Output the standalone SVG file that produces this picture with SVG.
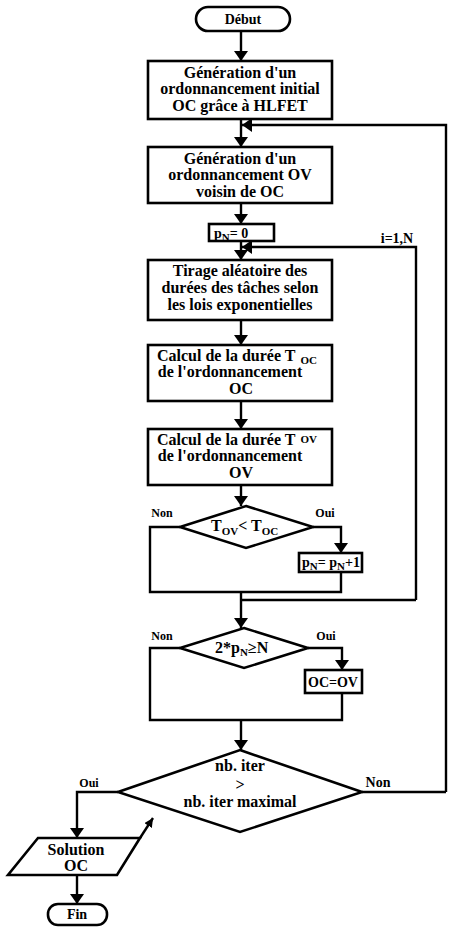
<svg xmlns="http://www.w3.org/2000/svg" width="451" height="936" viewBox="0 0 451 936">
<defs>
<marker id="ah" viewBox="0 0 10 14" refX="10" refY="7" markerWidth="10" markerHeight="14" markerUnits="userSpaceOnUse" orient="auto">
<path d="M0,0 L10,7 L0,14 Z" fill="#000"/>
</marker>
<marker id="ahs" viewBox="0 0 10 10" refX="10" refY="5" markerWidth="9" markerHeight="9" markerUnits="userSpaceOnUse" orient="auto">
<path d="M0,0 L10,5 L0,10 Z" fill="#000"/>
</marker>
</defs>
<style>
.s{fill:#fff;stroke:#000;stroke-width:2.6}
.c{fill:none;stroke:#000;stroke-width:2.4}
.a{fill:none;stroke:#000;stroke-width:2.4;marker-end:url(#ah)}
text{font-family:"Liberation Serif","Times New Roman",serif;font-size:16px;fill:#000;font-weight:bold}
.m{text-anchor:middle}
.l{font-size:12px}
.sm{font-size:14px}
.sub{font-size:11px}
</style>
<rect width="451" height="936" fill="#fff"/>

<g id="connectors">
<path class="a" d="M241,31 V61"/>
<path class="a" d="M241,119 V147"/>
<path class="a" d="M446,792 V125 H242"/>
<path class="a" d="M241,203 V224"/>
<path class="a" d="M241,241 V260"/>
<path class="a" d="M416,600 V247 H242"/>
<path class="a" d="M241,320 V345"/>
<path class="a" d="M241,401 V429"/>
<path class="a" d="M241,485 V506"/>
<path class="a" d="M313,527 H341 V553"/>
<path class="c" d="M180,527 H150 V592 H341 V572"/>
<path class="c" d="M416,600 H241"/>
<path class="a" d="M241,592 V628"/>
<path class="a" d="M308,648 H342 V670"/>
<path class="c" d="M180,648 H150 V720 H342 V693"/>
<path class="a" d="M241,720 V750"/>
<path class="c" d="M362,792 H446"/>
<path class="a" d="M118,792 H77 V838"/>
<path class="a" d="M77,875 V904"/>
<text x="397" y="243" class="m sm">i=1,N</text>
<text x="162" y="517" class="m l">Non</text>
<text x="325" y="517" class="m l">Oui</text>
<text x="162" y="640" class="m l">Non</text>
<text x="326" y="640" class="m l">Oui</text>
<text x="378" y="787" class="m sm">Non</text>
<text x="89" y="787" class="m l">Oui</text>
</g>

<g id="debut">
<rect class="s" x="196" y="7" width="94" height="24" rx="12"/>
<text x="243" y="24" class="m sm">Début</text>
</g>

<g id="init">
<rect class="s" x="148" y="61" width="184" height="58"/>
<text x="240" y="78" class="m">Génération d'un</text>
<text x="240" y="94" class="m">ordonnancement initial</text>
<text x="240" y="111" class="m">OC grâce à HLFET</text>
</g>

<g id="voisin">
<rect class="s" x="148" y="147" width="184" height="56"/>
<text x="240" y="164" class="m">Génération d'un</text>
<text x="240" y="180" class="m">ordonnancement OV</text>
<text x="240" y="197" class="m">voisin de OC</text>
</g>

<g id="pn0">
<rect class="s" x="209" y="224" width="65" height="17"/>
<text x="214" y="238" class="sm">p<tspan class="sub" dy="3">N</tspan><tspan dy="-3">= 0</tspan></text>
</g>

<g id="tirage">
<rect class="s" x="148" y="260" width="184" height="60"/>
<text x="240" y="276" class="m">Tirage aléatoire des</text>
<text x="240" y="293" class="m">durées des tâches selon</text>
<text x="240" y="310" class="m">les lois exponentielles</text>
</g>

<g id="calcOC">
<rect class="s" x="148" y="345" width="184" height="56"/>
<text x="157" y="361">Calcul de la durée T<tspan class="sub" dx="5" dy="3">OC</tspan></text>
<text x="230" y="377" class="m">de l'ordonnancement</text>
<text x="241" y="394" class="m">OC</text>
</g>

<g id="calcOV">
<rect class="s" x="148" y="429" width="184" height="56"/>
<text x="157" y="445">Calcul de la durée T<tspan class="sub" dx="5" dy="-2">OV</tspan></text>
<text x="230" y="461" class="m">de l'ordonnancement</text>
<text x="241" y="478" class="m">OV</text>
</g>

<g id="dec1">
<polygon class="s" points="246,506 313,527 246,548 180,527"/>
<text x="211" y="531">T<tspan class="sub" dy="4">OV</tspan><tspan dy="-4">&lt; T</tspan><tspan class="sub" dy="4">OC</tspan></text>
</g>

<g id="pninc">
<rect class="s" x="299" y="553" width="63" height="19"/>
<text x="302" y="567" class="sm">p<tspan class="sub" dy="3">N</tspan><tspan dy="-3">= p</tspan><tspan class="sub" dy="3">N</tspan><tspan dy="-3">+1</tspan></text>
</g>

<g id="dec2">
<polygon class="s" points="244,628 308,648 244,668 180,648"/>
<text x="215" y="653">2*p<tspan class="sub" dy="3">N</tspan><tspan dy="-3">≥N</tspan></text>
</g>

<g id="ocov">
<rect class="s" x="305" y="670" width="57" height="23"/>
<text x="333" y="687" class="m sm">OC=OV</text>
</g>

<g id="dec3">
<polygon class="s" points="240,750 362,792 240,832 118,792"/>
<text x="240" y="771" class="m">nb. iter</text>
<text x="240" y="790" class="m">&gt;</text>
<text x="240" y="807" class="m">nb. iter maximal</text>
</g>

<g id="solution">
<polygon class="s" points="38,838 140,838 117,875 8,875"/>
<path class="c" d="M140,838 L153,818" marker-end="url(#ahs)"/>
<text x="76" y="855" class="m">Solution</text>
<text x="76" y="871" class="m">OC</text>
</g>

<g id="fin">
<rect class="s" x="48" y="904" width="59" height="21" rx="10"/>
<text x="77" y="919" class="m sm">Fin</text>
</g>
</svg>
